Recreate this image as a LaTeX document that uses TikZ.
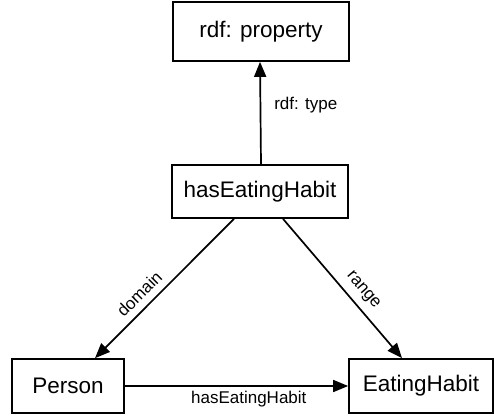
\documentclass[tikz,border=0pt]{standalone}
\usepackage{fontspec}
\setmainfont{Liberation Sans}
\usetikzlibrary{arrows.meta}
\begin{document}
\begin{tikzpicture}[x=1pt,y=-1pt,
  box/.style={draw,line width=1.7pt,inner sep=0pt,font=\fontsize{22.5}{26}\selectfont},
  link/.style={line width=1.7pt,-{Triangle[length=15pt,width=12pt]}},
  lbl/.style={font=\fontsize{17}{20}\selectfont,inner sep=2pt}]
\useasboundingbox (0,0) rectangle (494,415);
% classes and the property
\node[box,minimum width=176pt,minimum height=59pt] (prop) at (261,31.5) {rdf: property};
\node[box,minimum width=176pt,minimum height=53pt] (hab) at (260,191.5) {hasEatingHabit};
\node[box,minimum width=112pt,minimum height=54pt] (person) at (68,386) {Person};
\node[box,minimum width=144pt,minimum height=54pt] (eat) at (421,386) {EatingHabit};
% relations
\draw[link] ([xshift=1pt]hab.north) -- (prop.south -| hab.north) node[lbl,pos=0.58,right=11pt] {rdf: type};
\draw[link] ([xshift=-26pt]hab.south) -- ([xshift=27pt]person.north)
  node[lbl,pos=0.61,sloped,above=5pt] {domain};
\draw[link] ([xshift=23pt]hab.south) -- ([xshift=-19pt]eat.north)
  node[lbl,pos=0.58,sloped,above=5pt] {range};
\draw[link] (person.east) -- (eat.west) node[lbl,pos=0.555,below=2pt] {hasEatingHabit};
\end{tikzpicture}
\end{document}
